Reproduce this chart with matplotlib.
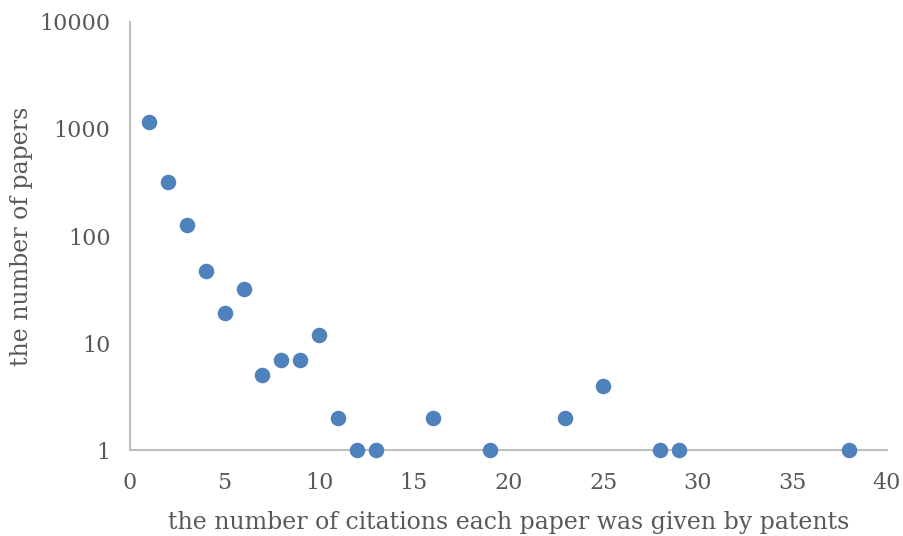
import matplotlib
matplotlib.use("Agg")
import matplotlib.pyplot as plt
from matplotlib.ticker import FixedLocator, FixedFormatter

# citations per paper (x) vs number of papers (y)
citations = [1, 2, 3, 4, 5, 6, 7, 8, 9, 10, 11, 12, 13, 16, 19, 23, 25, 28, 29, 38]
papers = [1150, 320, 127, 47, 19, 32, 5, 7, 7, 12, 2, 1, 1, 2, 1, 2, 4, 1, 1, 1]

xticks = [0, 5, 10, 15, 20, 25, 30, 35, 40]
yticks = [1, 10, 100, 1000, 10000]
ylabels = ["1", "10", "100", "1000", "10000"]

textcol = "#595959"
axcol = "#bfbfbf"
plt.rcParams['font.family'] = ['DejaVu Serif']

fig = plt.figure(figsize=(9.04, 5.36), dpi=100)
ax = fig.add_axes([0.1438, 0.1604, 0.8374, 0.7986])

ax.scatter(citations, papers, s=125, color="#4F81BD", zorder=3, clip_on=False, linewidths=0)

ax.set_yscale("log")
ax.set_xlim(0, 40)
ax.set_ylim(1, 10000)
ax.xaxis.set_major_locator(FixedLocator(xticks))
ax.yaxis.set_major_locator(FixedLocator(yticks))
ax.yaxis.set_major_formatter(FixedFormatter(ylabels))
ax.yaxis.set_minor_locator(FixedLocator([]))

for s in ["top", "right"]:
    ax.spines[s].set_visible(False)
for s in ["left", "bottom"]:
    ax.spines[s].set_color(axcol)
    ax.spines[s].set_linewidth(1.5)

ax.tick_params(axis="both", length=0, labelsize=16, labelcolor=textcol)
ax.tick_params(axis="x", pad=16)
ax.tick_params(axis="y", pad=14)

ax.set_xlabel("the number of citations each paper was given by patents", fontsize=17, color=textcol, labelpad=12)
ax.set_ylabel("the number of papers", fontsize=17, color=textcol, va="center")
ax.yaxis.set_label_coords(-0.143, 0.5)

fig.savefig("out.png", dpi=100)
